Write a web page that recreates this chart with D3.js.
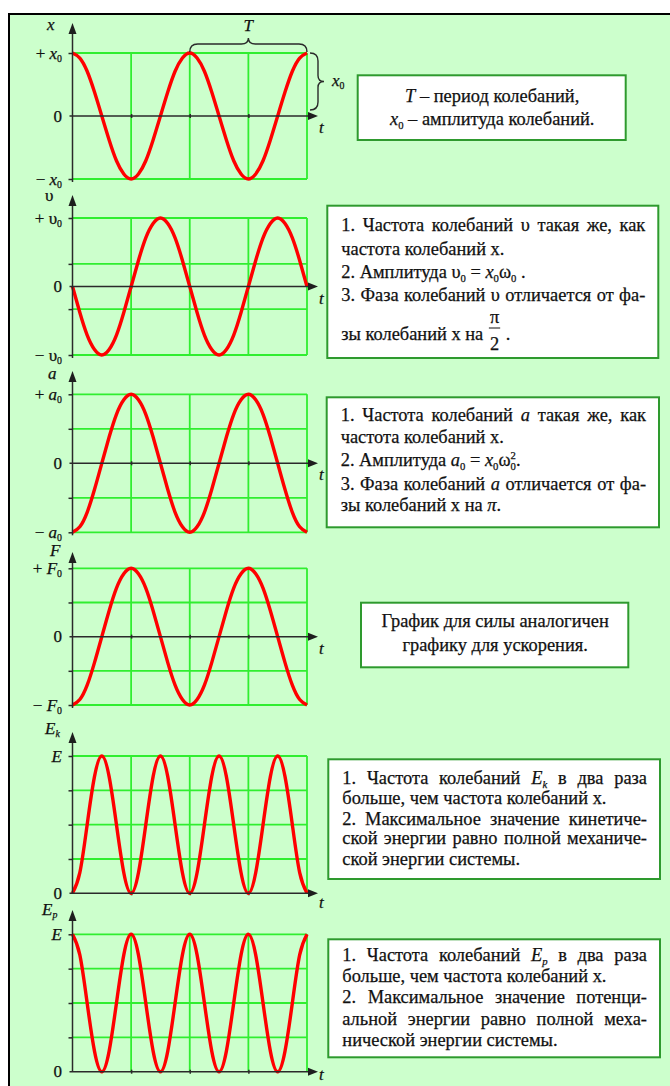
<!DOCTYPE html>
<html>
<head>
<meta charset="utf-8">
<title>Гармонические колебания</title>
<script src="https://d3js.org/d3.v7.min.js"></script>
<style>
  body { margin: 0; background: #fff; }
  .grid line { stroke: #30ee30; stroke-width: 1.8; }
  .curve { fill: none; stroke: #ff0000; stroke-width: 3.4; stroke-linejoin: round; }
  .axis-line { stroke: #2a2a2a; stroke-width: 1.5; }
  .tick line { stroke: #2a2a2a; stroke-width: 1.5; }
  .box { fill: #fff; stroke: #2e9a2e; stroke-width: 2; }
  .brace { fill: none; stroke: #2a2a2a; stroke-width: 1.4; }
</style>
</head>
<body>
<svg width="670" height="1086"></svg>
<script>
// time is counted in steps of T/16, two periods of x(t) are shown
var tTicks = [8, 16, 24, 32];

// values in units of the amplitude, read at every T/16
var xValues  = [1, 0.92, 0.71, 0.38, 0, -0.38, -0.71, -0.92, -1, -0.92, -0.71, -0.38, 0, 0.38, 0.71, 0.92,
                1, 0.92, 0.71, 0.38, 0, -0.38, -0.71, -0.92, -1, -0.92, -0.71, -0.38, 0, 0.38, 0.71, 0.92, 1];
var vValues  = [0, -0.38, -0.71, -0.92, -1, -0.92, -0.71, -0.38, 0, 0.38, 0.71, 0.92, 1, 0.92, 0.71, 0.38,
                0, -0.38, -0.71, -0.92, -1, -0.92, -0.71, -0.38, 0, 0.38, 0.71, 0.92, 1, 0.92, 0.71, 0.38, 0];
var aValues  = [-1, -0.92, -0.71, -0.38, 0, 0.38, 0.71, 0.92, 1, 0.92, 0.71, 0.38, 0, -0.38, -0.71, -0.92,
                -1, -0.92, -0.71, -0.38, 0, 0.38, 0.71, 0.92, 1, 0.92, 0.71, 0.38, 0, -0.38, -0.71, -0.92, -1];
var fValues  = [-1, -0.92, -0.71, -0.38, 0, 0.38, 0.71, 0.92, 1, 0.92, 0.71, 0.38, 0, -0.38, -0.71, -0.92,
                -1, -0.92, -0.71, -0.38, 0, 0.38, 0.71, 0.92, 1, 0.92, 0.71, 0.38, 0, -0.38, -0.71, -0.92, -1];
var ekValues = [0, 0.15, 0.5, 0.85, 1, 0.85, 0.5, 0.15, 0, 0.15, 0.5, 0.85, 1, 0.85, 0.5, 0.15,
                0, 0.15, 0.5, 0.85, 1, 0.85, 0.5, 0.15, 0, 0.15, 0.5, 0.85, 1, 0.85, 0.5, 0.15, 0];
var epValues = [1, 0.85, 0.5, 0.15, 0, 0.15, 0.5, 0.85, 1, 0.85, 0.5, 0.15, 0, 0.15, 0.5, 0.85,
                1, 0.85, 0.5, 0.15, 0, 0.15, 0.5, 0.85, 1, 0.85, 0.5, 0.15, 0, 0.15, 0.5, 0.85, 1];

var xGrid  = [-1, 1];
var vGrid  = [-1, -0.33, 0.33, 1];
var aGrid  = [-1, -0.5, 0.5, 1];
var fGrid  = [-1, -0.5, 0.5, 1];
var ekGrid = [0.25, 0.5, 0.75, 1];
var epGrid = [0.25, 0.5, 0.75, 1];

// * toggles italic, _c is a subscript, ^c a superscript
var axisNames  = ["*x*", "υ", "*a*", "*F*", "*E_k*", "*E_p*"];
var maxLabels  = ["+ *x*_0", "+ υ_0", "+ *a*_0", "+ *F*_0", "*E*", "*E*"];
var zeroLabels = ["0", "0", "0", "0", "0", "0"];
var minLabels  = ["− *x*_0", "− υ_0", "− *a*_0", "− *F*_0", null, null];

var box1Lines = ["*T* – период колебаний,", "*x*_0 – амплитуда колебаний."];
var box2Lines = ["1. Частота колебаний υ такая же, как", "частота колебаний x.",
                 "2. Амплитуда  υ_0 = *x*_0ω_0 .", "3. Фаза колебаний υ отличается от фа-",
                 "зы колебаний x на [π|2] ."];
var box3Lines = ["1. Частота колебаний *a* такая же, как", "частота колебаний x.",
                 "2. Амплитуда  *a*_0 = *x*_0ω_0^2.", "3. Фаза колебаний *a* отличается от фа-",
                 "зы колебаний x на *π*."];
var box4Lines = ["График для силы аналогичен", "графику для ускорения."];
var box5Lines = ["1. Частота колебаний *E_k* в два раза", "больше, чем частота колебаний x.",
                 "2. Максимальное значение кинетиче-", "ской энергии равно полной механиче-",
                 "ской энергии системы."];
var box6Lines = ["1. Частота колебаний *E_p* в два раза", "больше, чем частота колебаний x.",
                 "2. Максимальное значение потенци-", "альной энергии равно полной меха-",
                 "нической энергии системы."];

var svg = d3.select("svg");
var ink = "#111";
var serif = "'Liberation Serif', 'Times New Roman', serif";

svg.append("rect")
    .attr("x", 9).attr("y", 14).attr("width", 700).attr("height", 1100)
    .attr("fill", "#ccffcc").attr("stroke", "#000").attr("stroke-width", 2);

function parseRuns(s) {
  var runs = [], italic = false;
  for (var i = 0; i < s.length; i++) {
    var c = s[i];
    if (c === "*") { italic = !italic; continue; }
    if (c === "_" || c === "^") {
      runs.push({t: s[i + 1], italic: italic, pos: c === "_" ? "sub" : "sup"});
      i++;
      continue;
    }
    var last = runs[runs.length - 1];
    if (last && last.pos === "base" && last.italic === italic) last.t += c;
    else runs.push({t: c, italic: italic, pos: "base"});
  }
  return runs;
}

// draws one piece of marked up text, returns it with its width
function drawRuns(g, s, x, y, size) {
  var text = g.append("text")
      .attr("x", x).attr("y", y)
      .attr("font-family", serif)
      .attr("font-size", size).attr("fill", ink)
      .attr("stroke", ink).attr("stroke-width", 0.25)
      .style("white-space", "pre");
  var shift = 0, prev = null;
  parseRuns(s).forEach(function(r) {
    var target = r.pos === "sub" ? size * 0.2 : r.pos === "sup" ? -size * 0.4 : 0;
    var ts = text.append("tspan").text(r.t).attr("dy", target - shift);
    shift = target;
    if (r.italic) ts.attr("font-style", "italic");
    if (r.pos !== "base") ts.attr("font-size", size * 0.58);
    if (r.pos === "sup" && prev && prev.pos === "sub") {
      ts.attr("dx", -prev.node.getComputedTextLength());
    }
    prev = {pos: r.pos, node: ts.node()};
  });
  return {el: text, w: text.node().getComputedTextLength()};
}

function drawFraction(g, word, size) {
  var parts = word.slice(1, -1).split("|");
  var fg = g.append("g");
  var num = drawRuns(fg, parts[0], 0, -17, size);
  var den = drawRuns(fg, parts[1], 0, 10, size);
  var w = Math.max(num.w, den.w) + 4;
  num.el.attr("x", (w - num.w) / 2);
  den.el.attr("x", (w - den.w) / 2);
  fg.append("line").attr("x1", 1).attr("x2", w - 1).attr("y1", -12).attr("y2", -12)
      .attr("stroke", ink).attr("stroke-width", 1);
  return {el: fg, w: w, frac: true};
}

function drawLine(g, line, x0, x1, baseline, align) {
  var size = 18.4, space = 4.6;
  var words = line.split(" ").filter(function(w) { return w.length; }).map(function(w) {
    if (w[0] === "[") return drawFraction(g, w, size);
    return drawRuns(g, w, 0, baseline, size);
  });
  var sum = d3.sum(words, function(w) { return w.w; });
  var gap = space;
  if (align === "justify" && words.length > 1) gap = (x1 - x0 - sum) / (words.length - 1);
  var x = x0;
  if (align === "center") x = (x0 + x1) / 2 - (sum + space * (words.length - 1)) / 2;
  words.forEach(function(w) {
    if (w.frac) w.el.attr("transform", "translate(" + x + "," + baseline + ")");
    else w.el.attr("x", x);
    x += w.w + gap;
  });
}

function drawBox(lines, box, baselines, centered) {
  var g = svg.append("g");
  g.append("rect").attr("class", "box")
      .attr("x", box.x).attr("y", box.y).attr("width", box.w).attr("height", box.h);
  lines.forEach(function(line, i) {
    var align = centered ? "center" : (/[.,]$/.test(line) ? "left" : "justify");
    drawLine(g, line, box.x + 14, box.x + box.w - 13, baselines[i], align);
  });
}

var t = d3.scaleLinear().domain([0, 32]).range([72.5, 307]);
var line = d3.line()
    .x(function(d, i) { return t(i); })
    .curve(d3.curveNatural);

var panels = [
  {values: xValues,  grid: xGrid,  domain: [-1, 1], top: 53,    bottom: 179,   tip: 23,  nameX: 47, nameY: 30,  tY: 17},
  {values: vValues,  grid: vGrid,  domain: [-1, 1], top: 218,   bottom: 355,   tip: 195, nameX: 45, nameY: 201, tY: 17},
  {values: aValues,  grid: aGrid,  domain: [-1, 1], top: 394.3, bottom: 532.3, tip: 371, nameX: 48, nameY: 379, tY: 17},
  {values: fValues,  grid: fGrid,  domain: [-1, 1], top: 568.3, bottom: 705,   tip: 552, nameX: 50, nameY: 556, tY: 17},
  {values: ekValues, grid: ekGrid, domain: [0, 1],  top: 756,   bottom: 893.3, tip: 732, nameX: 45, nameY: 734, tY: 15},
  {values: epValues, grid: epGrid, domain: [0, 1],  top: 934.3, bottom: 1071.7, tip: 910, nameX: 42, nameY: 915, tY: 8}
];

panels.forEach(function(p, k) {
  var y = d3.scaleLinear().domain(p.domain).range([p.bottom, p.top]);
  var g = svg.append("g");
  var x0 = t(0), y0 = y(0);

  var grid = g.append("g").attr("class", "grid");
  grid.selectAll(".h").data(p.grid).enter().append("line")
      .attr("x1", x0).attr("x2", t(32))
      .attr("y1", function(d) { return y(d); }).attr("y2", function(d) { return y(d); });
  grid.selectAll(".v").data(tTicks).enter().append("line")
      .attr("x1", function(d) { return t(d); }).attr("x2", function(d) { return t(d); })
      .attr("y1", y(p.domain[0])).attr("y2", y(p.domain[1]));

  g.append("g")
      .attr("transform", "translate(" + x0 + ",0)")
      .call(d3.axisLeft(y).tickValues(p.grid).tickSize(4).tickFormat(""))
      .call(function(a) { a.select(".domain").remove(); });
  g.append("g")
      .attr("transform", "translate(0," + y0 + ")")
      .call(d3.axisBottom(t).tickValues(tTicks.slice(0, 3)).tickSizeInner(2).tickSizeOuter(0).tickFormat(""))
      .call(function(a) { a.select(".domain").remove(); a.selectAll(".tick line").attr("y1", -2); });

  g.append("path").attr("class", "curve").attr("d", line.y(function(d) { return y(d); })(p.values));

  g.append("line").attr("class", "axis-line")
      .attr("x1", x0).attr("x2", x0)
      .attr("y1", p.domain[0] < 0 ? p.bottom + 3 : p.bottom).attr("y2", p.tip + 6);
  g.append("path").attr("fill", "#1e1e1e")
      .attr("d", "M" + (x0 - 4) + "," + (p.tip + 11) + "L" + x0 + "," + p.tip + "L" + (x0 + 4) + "," + (p.tip + 11) + "Z");
  g.append("line").attr("class", "axis-line")
      .attr("x1", x0 - 3).attr("x2", 312).attr("y1", y0).attr("y2", y0);
  g.append("path").attr("fill", "#1e1e1e")
      .attr("d", "M308," + (y0 - 4) + "L318," + y0 + "L308," + (y0 + 4) + "Z");

  drawRuns(g, "*t*", 319, y0 + p.tY, 17);
  drawRuns(g, axisNames[k], p.nameX, p.nameY, 17);

  [[maxLabels[k], p.domain[1]], [zeroLabels[k], 0], [minLabels[k], -1]].forEach(function(l) {
    if (!l[0]) return;
    var r = drawRuns(g, l[0], 0, y(l[1]) + 5.5, 17);
    r.el.attr("x", 62 - r.w);
  });

  if (k === 0) {
    // period and amplitude braces
    var a = t(16), b = t(32), m = (a + b) / 2, yb = y(1) - 1;
    g.append("path").attr("class", "brace")
        .attr("d", "M" + a + "," + yb + "Q" + a + "," + (yb - 8) + " " + (a + 8) + "," + (yb - 8) +
                   "L" + (m - 7) + "," + (yb - 8) + "Q" + m + "," + (yb - 8) + " " + m + "," + (yb - 14) +
                   "Q" + m + "," + (yb - 8) + " " + (m + 7) + "," + (yb - 8) +
                   "L" + (b - 8) + "," + (yb - 8) + "Q" + b + "," + (yb - 8) + " " + b + "," + yb);
    drawRuns(g, "*T*", m - 5, 31, 17);
    var xa = b + 3, ya = y(1), yz = y(0) - 6, ym = (ya + yz) / 2;
    g.append("path").attr("class", "brace")
        .attr("d", "M" + xa + "," + ya + "Q" + (xa + 8) + "," + ya + " " + (xa + 8) + "," + (ya + 8) +
                   "L" + (xa + 8) + "," + (ym - 6) + "Q" + (xa + 8) + "," + ym + " " + (xa + 14) + "," + ym +
                   "Q" + (xa + 8) + "," + ym + " " + (xa + 8) + "," + (ym + 6) +
                   "L" + (xa + 8) + "," + (yz - 8) + "Q" + (xa + 8) + "," + yz + " " + xa + "," + yz);
    drawRuns(g, "*x*_0", 332, ym + 4, 17);
  }
});

drawBox(box1Lines, {x: 357.7, y: 75.3, w: 268, h: 64.7}, [101.5, 125], true);
drawBox(box2Lines, {x: 327.3, y: 205.7, w: 331, h: 152.3}, [231, 254.5, 278, 301, 340], false);
drawBox(box3Lines, {x: 326.7, y: 397.3, w: 332.3, h: 130}, [421, 443, 466, 489.5, 511], false);
drawBox(box4Lines, {x: 361, y: 602.7, w: 267.3, h: 64.6}, [626.5, 651], true);
drawBox(box5Lines, {x: 328.3, y: 759.3, w: 331.7, h: 119.7}, [784, 804, 824.5, 844, 864.5], false);
drawBox(box6Lines, {x: 328.3, y: 939.3, w: 331.7, h: 118}, [961, 982, 1003, 1024.5, 1046], false);
</script>
</body>
</html>
